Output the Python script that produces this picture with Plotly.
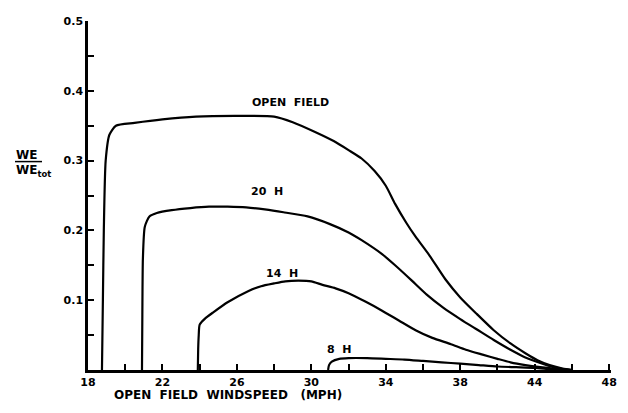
import plotly.graph_objects as go

# ---- data ----
open_x = [18.75, 18.8, 18.85, 18.95, 19.15, 19.5, 20.5, 22.0, 23.8, 26.0, 28.0, 29.0, 30.2, 31.2, 32.0,
          32.7, 33.4, 34.0, 34.5, 35.1, 35.6, 36.35, 37.2, 38.0, 38.9, 39.8, 40.7, 41.5, 42.15, 42.8, 43.5, 44.0]
open_y = [0.0, 0.10, 0.20, 0.30, 0.337, 0.350, 0.354, 0.359, 0.363, 0.364, 0.363, 0.355, 0.341, 0.328, 0.315,
          0.303, 0.285, 0.264, 0.238, 0.211, 0.191, 0.164, 0.130, 0.104, 0.080, 0.057, 0.038, 0.024, 0.014, 0.007, 0.002, 0.0]

h20_x = [20.9, 20.92, 20.95, 21.05, 21.3, 21.7, 22.5, 23.5, 24.5, 25.5, 26.5, 27.5, 28.5, 29.8, 31.0, 32.0,
         32.7, 33.8, 34.5, 35.4, 36.2, 37.1, 38.0, 38.9, 39.8, 40.7, 41.5, 42.3, 43.0, 43.6, 44.0]
h20_y = [0.0, 0.08, 0.16, 0.205, 0.220, 0.225, 0.229, 0.232, 0.234, 0.234, 0.233, 0.230, 0.226, 0.220, 0.209, 0.197,
         0.186, 0.166, 0.150, 0.128, 0.108, 0.089, 0.073, 0.058, 0.043, 0.029, 0.018, 0.010, 0.004, 0.001, 0.0]

h14_x = [23.9, 23.92, 23.95, 24.0, 24.3, 24.7, 25.5, 26.6, 27.3, 28.0, 28.6, 29.3, 30.0, 30.6, 31.3, 32.0,
         32.9, 33.8, 34.7, 35.6, 36.5, 37.5, 38.3, 39.2, 40.0, 40.7, 41.5, 42.3, 43.0, 43.6, 44.0]
h14_y = [0.0, 0.03, 0.05, 0.065, 0.074, 0.082, 0.097, 0.113, 0.120, 0.124, 0.127, 0.128, 0.127, 0.122, 0.117, 0.110,
         0.098, 0.085, 0.071, 0.057, 0.046, 0.037, 0.029, 0.022, 0.016, 0.011, 0.007, 0.004, 0.002, 0.001, 0.0]

h8_x = [30.9, 30.95, 31.1, 31.5, 32.0, 33.0, 34.0, 35.0, 36.0, 37.0, 38.0, 39.0, 40.0, 41.0, 42.0, 43.0, 44.0]
h8_y = [0.0, 0.007, 0.012, 0.016, 0.017, 0.017, 0.016, 0.015, 0.013, 0.011, 0.009, 0.007, 0.005, 0.004, 0.003, 0.001, 0.0]

series = [("OPEN FIELD", open_x, open_y), ("20 H", h20_x, h20_y), ("14 H", h14_x, h14_y), ("8 H", h8_x, h8_y)]

# curve label anchors (data coords)
label_text = ["OPEN FIELD", "20 H", "14 H", "8 H"]
label_x = [28.9, 27.6, 28.4, 31.5]
label_y = [0.383, 0.256, 0.138, 0.030]

x_tickvals = [18, 22, 26, 30, 34, 38, 42, 46]
x_ticktext = ["18", "22", "26", "30", "34", "38", "44", "48"]
y_tickvals = [0.1, 0.2, 0.3, 0.4, 0.5]
y_ticktext = ["0.1", "0.2", "0.3", "0.4", "0.5"]

FONT = "DejaVu Sans"

fig = go.Figure()
for name, xs, ys in series:
    fig.add_trace(go.Scatter(x=xs, y=ys, mode="lines", name=name,
                             line=dict(color="black", width=2.2, shape="spline", smoothing=0.6),
                             showlegend=False, hoverinfo="skip"))

for t, x, y in zip(label_text, label_x, label_y):
    fig.add_annotation(x=x, y=y, text="<b>" + t.replace(" ", "\u00a0\u00a0") + "</b>", showarrow=False,
                       font=dict(family=FONT, size=11, color="black"))

# page has an 8px body margin; size the figure so the plot lands where the reference's does
OFF = 8
W, H = 628 - OFF, 413 - OFF
ML, MR, MT, MB = 88 - OFF, 17, 15 - OFF, 43
pw, ph = W - ML - MR, H - MT - MB

def px(xp):
    return (xp - OFF - ML) / pw

def py(yp):
    return (H - MB - (yp - OFF)) / ph

# y-axis fraction title
fig.add_annotation(xref="paper", yref="paper", x=px(14), y=py(151), xanchor="left", text="<b>WE</b>",
                   showarrow=False, font=dict(family=FONT, size=12, color="black"))
fig.add_annotation(xref="paper", yref="paper", x=px(14), y=py(168), xanchor="left",
                   text="<b>WE<sub>tot</sub></b>", showarrow=False,
                   font=dict(family=FONT, size=12, color="black"))
fig.add_shape(type="line", xref="paper", yref="paper", x0=px(15), x1=px(42), y0=py(158), y1=py(158),
              line=dict(color="black", width=1.5))

# x-axis title
fig.add_annotation(xref="paper", yref="paper", x=px(112), y=py(405), xanchor="left",
                   text="<b>OPEN\u00a0\u00a0FIELD\u00a0\u00a0WINDSPEED\u00a0\u00a0\u00a0(MPH)</b>", showarrow=False,
                   font=dict(family=FONT, size=12, color="black"))

fig.update_layout(
    width=W, height=H,
    margin=dict(l=ML, r=MR, t=MT, b=MB),
    paper_bgcolor="white", plot_bgcolor="white",
    xaxis=dict(range=[18, 46.1], showgrid=False, zeroline=False, showline=True, linecolor="black", linewidth=2.5,
               ticks="inside", ticklen=6, tickwidth=1.5, tickcolor="black",
               tickvals=x_tickvals, ticktext=x_ticktext,
               minor=dict(ticks="inside", ticklen=6, tickwidth=1.5, tickcolor="black", tick0=18, dtick=2),
               tickfont=dict(family=FONT, size=11, color="black", weight="bold")),
    yaxis=dict(range=[0, 0.5], showgrid=False, zeroline=False, showline=True, linecolor="black", linewidth=2.5,
               ticks="inside", ticklen=6, tickwidth=1.5, tickcolor="black",
               tickvals=y_tickvals, ticktext=y_ticktext,
               minor=dict(ticks="inside", ticklen=6, tickwidth=1.5, tickcolor="black", tick0=0, dtick=0.05),
               tickfont=dict(family=FONT, size=11, color="black", weight="bold")),
)

fig.write_html("out.html")
